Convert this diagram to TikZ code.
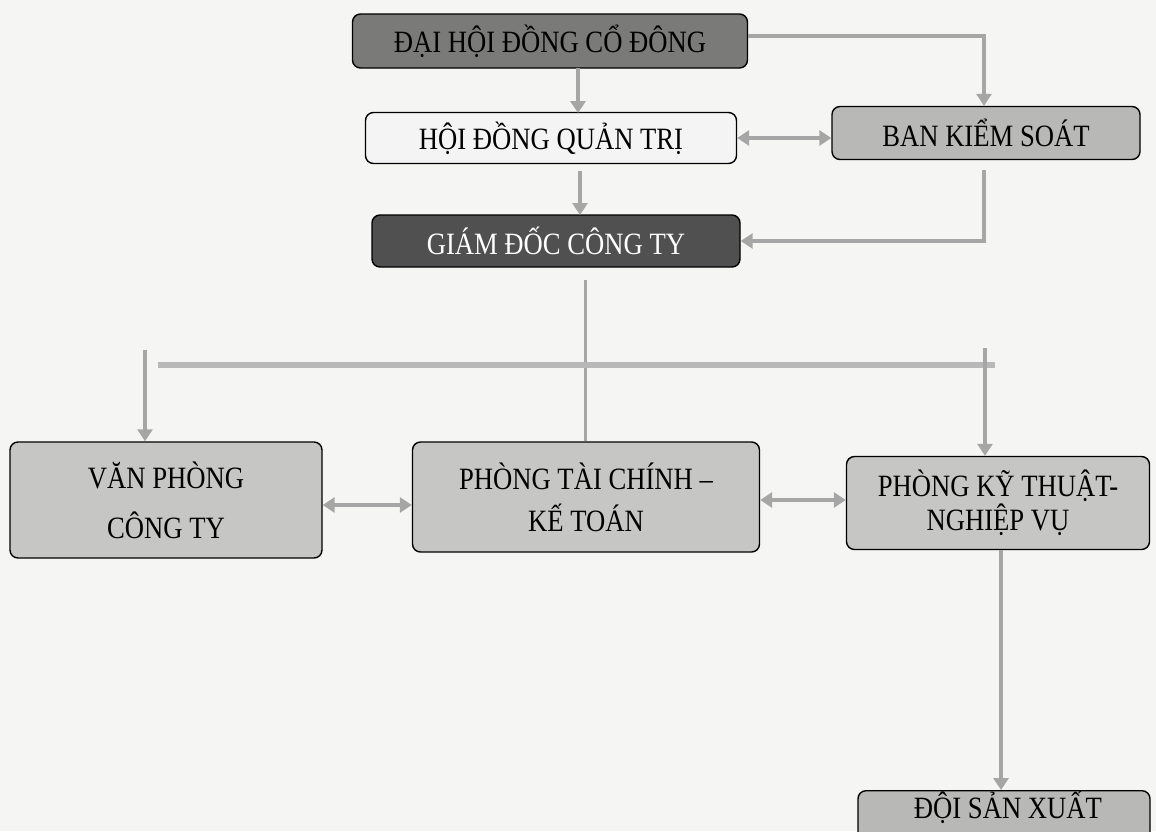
\documentclass[tikz,border=0pt]{standalone}
\usepackage{fontspec}
\setmainfont{Liberation Serif}[FakeStretch=0.86]
\usetikzlibrary{arrows.meta}
\definecolor{bgc}{HTML}{F5F5F3}
\definecolor{linec}{HTML}{A6A6A6}
\definecolor{darkA}{HTML}{7A7A78}
\definecolor{darkB}{HTML}{505050}
\definecolor{lightA}{HTML}{F4F4F4}
\definecolor{midA}{HTML}{B8B8B6}
\definecolor{midB}{HTML}{C6C6C4}
\tikzset{
  orgbox/.style={draw=black, line width=1.4pt, rounded corners=8pt, inner sep=0pt,
    font=\fontsize{31}{42}\selectfont, align=center},
  conn/.style={draw=linec, line width=4.5pt},
  arr/.style={conn, -{Triangle[width=15pt,length=12pt]}},
  darr/.style={conn, {Triangle[width=15pt,length=12pt]}-{Triangle[width=15pt,length=12pt]}},
  bar/.style={draw=linec!80, line width=6pt},
}
\begin{document}
\begin{tikzpicture}[x=1pt,y=-1pt]
\useasboundingbox[fill=bgc] (0,0) rectangle (1156,831);
% boxes
\node[orgbox, fill=darkA, minimum width=395pt, minimum height=54pt] (dhd) at (550,41) {ĐẠI HỘI ĐỒNG CỔ ĐÔNG};
\node[orgbox, fill=lightA, minimum width=371pt, minimum height=51pt] (hdqt) at (551,138) {HỘI ĐỒNG QUẢN TRỊ};
\node[orgbox, fill=midA, minimum width=308pt, minimum height=53pt] (bks) at (986,133) {BAN KIỂM SOÁT};
\node[orgbox, fill=darkB, text=white, minimum width=368pt, minimum height=52pt] (gd) at (556,241) {GIÁM ĐỐC CÔNG TY};
\node[orgbox, fill=midB, minimum width=312pt, minimum height=116pt, font=\fontsize{31}{50}\selectfont] (vp) at (166,500) {VĂN PHÒNG\\CÔNG TY};
\node[orgbox, fill=midB, minimum width=347pt, minimum height=110pt] (tc) at (586,497) {PHÒNG TÀI CHÍNH –\\KẾ TOÁN};
\node[orgbox, fill=midB, minimum width=303pt, minimum height=93pt, font=\fontsize{31}{34}\selectfont] (kt) at (998,503) {PHÒNG KỸ THUẬT-\\NGHIỆP VỤ};
\node[orgbox, fill=midA, minimum width=292pt, minimum height=70pt, anchor=north] (dsx) at (1004,790) {};
\node[font=\fontsize{31}{40}\selectfont] (dsxt) at (1008,807) {ĐỘI SẢN XUẤT};
% helper coordinates
\coordinate (a1) at (578,68);
\coordinate (a2) at (578,113);
\coordinate (b1) at (984,36);
\coordinate (c1) at (580,171);
\coordinate (c2) at (580,215);
\coordinate (d1) at (984,170);
\coordinate (d2) at (984,241);
\coordinate (e1) at (585,280);
\coordinate (barL) at (158,365);
\coordinate (barR) at (995,365);
\coordinate (f1) at (145,350);
\coordinate (g1) at (985,348);
% connectors
\draw[arr] (a1) -- (a2);
\draw[arr] (dhd.east |- b1) -- (b1) -- (bks.north -| b1);
\draw[darr] (hdqt.east) -- (bks.west |- hdqt.east);
\draw[arr] (c1) -- (c2);
\draw[arr] (d1) -- (d2) -- (gd.east |- d2);
\draw[conn, line width=3pt] (e1) -- (tc.north -| e1);
\draw[bar] (barL) -- (barR);
\draw[arr] (f1) -- (vp.north -| f1);
\draw[arr] (g1) -- (kt.north -| g1);
\draw[darr] (vp.east |- 0,505) -- (tc.west |- 0,505);
\draw[darr] (tc.east |- 0,500) -- (kt.west |- 0,500);
\draw[arr] (kt.south -| 1001,0) -- (dsx.north -| 1001,0);
\end{tikzpicture}
\end{document}
